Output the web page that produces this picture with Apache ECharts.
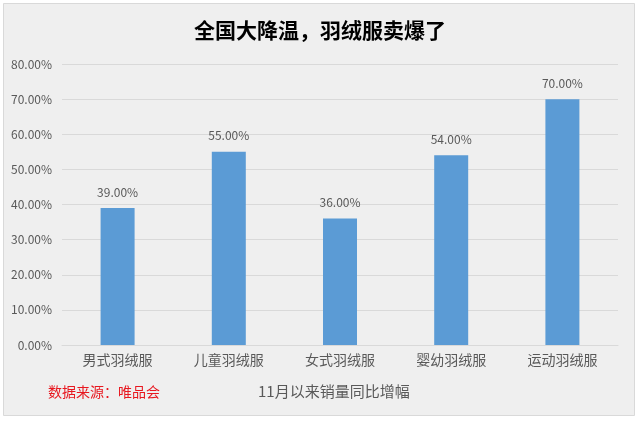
<!DOCTYPE html>
<html><head><meta charset="utf-8">
<script src="https://cdn.jsdelivr.net/npm/echarts@6/dist/echarts.min.js"></script>
<style>html,body{margin:0;padding:0;background:#fff}#c{width:640px;height:421px}</style>
</head><body><div id="c"></div>
<script>
const categories = ['男式羽绒服','儿童羽绒服','女式羽绒服','婴幼羽绒服','运动羽绒服'];
const values = [39, 55, 36, 54, 70];
const titleText = '全国大降温，羽绒服卖爆了';
const sourceText = '数据来源：唯品会';
const subText = '11月以来销量同比增幅';
const font = '"Noto Sans CJK SC", "Noto Sans", sans-serif';
const chart = echarts.init(document.getElementById('c'));
chart.setOption({
  backgroundColor: '#ffffff',
  graphic: [
    {type:'rect', left:3, top:3, shape:{width:631, height:412}, style:{fill:'#efefef', stroke:'#d9d9d9', lineWidth:1}, z:-10},
    {type:'text', left:48, top:385, style:{text:sourceText, fill:'#e8171f', font:'14px '+font}},
    {type:'text', left:258, top:384, style:{text:subText, fill:'#595959', font:'15px '+font}}
  ],
  title: {text:titleText, left:'center', top:15, textStyle:{fontSize:21, fontWeight:'bold', color:'#000', fontFamily:font}},
  grid: {left:62, right:22, top:64, bottom:76},
  xAxis: {type:'category', data:categories,
    axisLine:{lineStyle:{color:'#d9d9d9'}}, axisTick:{show:false},
    axisLabel:{color:'#595959', fontSize:14, fontFamily:font, margin:8}},
  yAxis: {type:'value', min:0, max:80, interval:10,
    axisLine:{show:false}, axisTick:{show:false},
    splitLine:{lineStyle:{color:'#d9d9d9'}},
    axisLabel:{color:'#595959', fontSize:12, fontFamily:font, margin:10, formatter:v=>v.toFixed(2)+'%'}},
  series: [{type:'bar', data:values, barWidth:34, itemStyle:{color:'#5b9bd5'},
    label:{show:true, position:'top', color:'#595959', fontSize:12, fontFamily:font, distance:10, formatter:p=>p.value.toFixed(2)+'%'}}]
});
</script></body></html>
